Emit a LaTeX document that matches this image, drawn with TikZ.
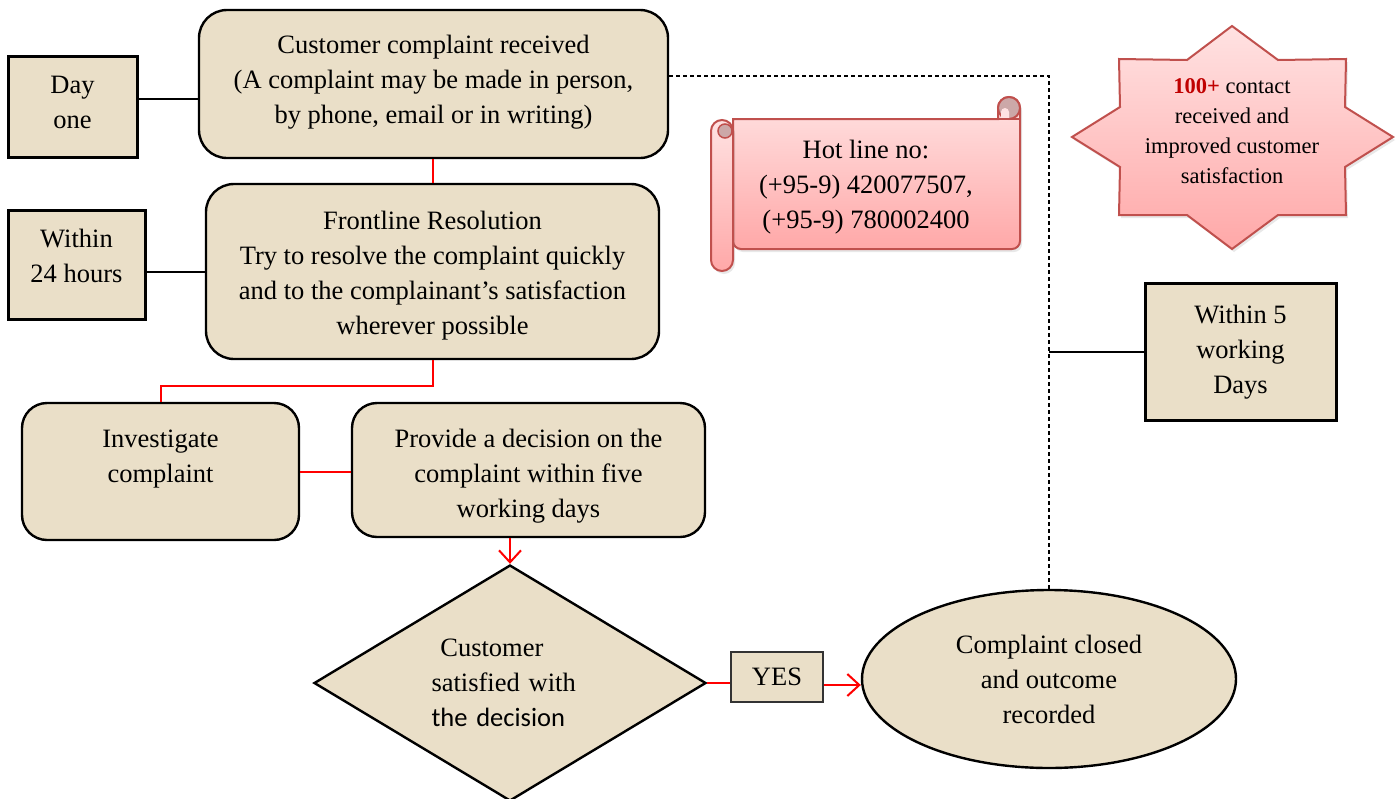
\documentclass[tikz,border=0pt]{standalone}
\usepackage{fontspec}
\setmainfont{Liberation Serif}
\newfontfamily\calibri{Carlito}
\usetikzlibrary{shapes.geometric, arrows.meta, shadows}

\definecolor{boxtan}{RGB}{234,223,200}
\definecolor{scrollred}{RGB}{192,80,77}
\definecolor{pinktop}{RGB}{255,226,226}
\definecolor{pinkbot}{RGB}{255,168,168}
\definecolor{curlgray}{RGB}{204,168,168}
\definecolor{hotred}{RGB}{192,0,0}

\begin{document}
\begin{tikzpicture}[x=1pt, y=-1pt, >={Straight Barb[length=12pt, width=22pt]},
    every node/.style={font=\fontsize{26.5}{35}\selectfont, align=center},
    flow/.style={draw, line width=2.4pt, fill=boxtan, rounded corners=28pt, inner sep=0pt},
    tag/.style={draw, line width=3pt, fill=boxtan, inner sep=0pt},
    link/.style={red, line width=2pt},
    tie/.style={line width=2pt},
    paper/.style={draw=scrollred, line width=2pt, top color=pinktop, bottom color=pinkbot}]
    \useasboundingbox (0,0) rectangle (1400,798);

    % left hand time tags
    \node[tag, minimum width=129pt, minimum height=101pt, text depth=8pt] (day) at (72.5,106.5) {Day\\one};
    \node[tag, minimum width=137pt, minimum height=109pt, text depth=18pt] (h24) at (76.5,264.5) {Within\\24 hours};

    % main flow
    \node[flow, minimum width=469pt, minimum height=148pt, text depth=10pt] (recv) at (433.5,84) {Customer complaint received\\(A complaint may be made in person,\\by phone, email or in writing)};
    \node[flow, minimum width=453pt, minimum height=175pt, text height=131pt] (front) at (432.5,271.5) {Frontline Resolution\\Try to resolve the complaint quickly\\and to the complainant’s satisfaction\\wherever possible};
    \node[flow, rounded corners=25pt, minimum width=277pt, minimum height=137pt, text depth=31pt] (inv) at (160.5,471.5) {Investigate\\complaint};
    \node[flow, rounded corners=25pt, minimum width=353pt, minimum height=134pt, text height=100pt] (dec) at (528.5,470) {Provide a decision on the\\complaint within five\\working days};
    \node[diamond, aspect=1.66, draw, line width=2.4pt, fill=boxtan, minimum width=392pt, minimum height=236pt, inner sep=0pt, align=left, text width=157pt] (sat) at (510,683) {\ Customer\\satisfied with\\{\calibri the decision}};
    \node[draw=black!80, line width=1.5pt, fill=boxtan, minimum width=92pt, minimum height=50pt, inner sep=0pt] (yes) at (777,677) {YES};
    \node[ellipse, draw, line width=2.4pt, fill=boxtan, minimum width=374pt, minimum height=178pt, inner sep=0pt] (closed) at (1049,679) {Complaint closed\\and outcome\\recorded};
    \node[tag, minimum width=191pt, minimum height=137pt, text depth=5pt] (days5) at (1240.5,351.5) {Within 5\\working\\Days};

    % hot line scroll
    \draw[paper, drop shadow={opacity=0.18, shadow xshift=2pt, shadow yshift=-3pt}]
        (733,119) -- (998,119) -- (998,108) arc[start angle=180, end angle=360, radius=11]
        {[rounded corners=8pt] -- (1020,249) -- (733,249)} -- cycle;
    \draw[draw=scrollred, line width=2pt, fill=curlgray] (1009,108) circle[radius=11];
    \fill[pinktop] (1001,119) -- (1001,112) arc[start angle=180, end angle=360, radius=4] -- (1009,119) -- cycle;
    \draw[draw=scrollred, line width=1.5pt] (998,119) -- (1020,119);
    \draw[paper, rounded corners=11pt, drop shadow={opacity=0.18, shadow xshift=2pt, shadow yshift=-3pt}]
        (711,120) rectangle (733,271);
    \draw[draw=scrollred, line width=1.5pt, fill=curlgray] (725,131) circle[radius=7];
    \node (hotline) at (866,187) {Hot line no:\\(+95-9) 420077507,\\(+95-9) 780002400};

    % contact star
    \draw[paper, drop shadow={opacity=0.18, shadow xshift=2pt, shadow yshift=-3pt}]
        (1232,26) -- (1278,60) -- (1346,59) -- (1345,107) -- (1393,137) -- (1345,167)
        -- (1346,215) -- (1278,215) -- (1232,249) -- (1187,215) -- (1119,215) -- (1120,167)
        -- (1072,137) -- (1120,107) -- (1119,59) -- (1187,60) -- cycle;
    \node[font=\fontsize{22.5}{30}\selectfont] (burst) at (1232,131) {\textbf{\color{hotred}100+} contact\\received and\\improved customer\\satisfaction};

    % connectors
    \draw[tie] ([yshift=7.5pt]day.east) -- ([yshift=7.5pt]day.east -| recv.west);
    \draw[tie] (front.west -| h24.east) -- (front.west);
    \draw[link] (recv.south -| front.north) -- (front.north);
    \draw[link] (front.south) -- ++(0,26) -| (inv.north);
    \draw[link] (inv.east) -- (inv.east -| dec.west);
    \draw[link, ->] (sat.north |- dec.south) -- (sat.north);
    \draw[link] (sat.east) -- (sat.east -| yes.west);
    \draw[link, ->] ([yshift=-2pt]sat.east -| yes.east) -- ([yshift=-2pt]sat.east -| closed.west);
    \draw[line width=1.5pt, dash pattern=on 4pt off 3pt] ([yshift=8pt]recv.east) -| (closed.north);
    \draw[tie] (days5.west -| closed.north) -- (days5.west);
\end{tikzpicture}
\end{document}
